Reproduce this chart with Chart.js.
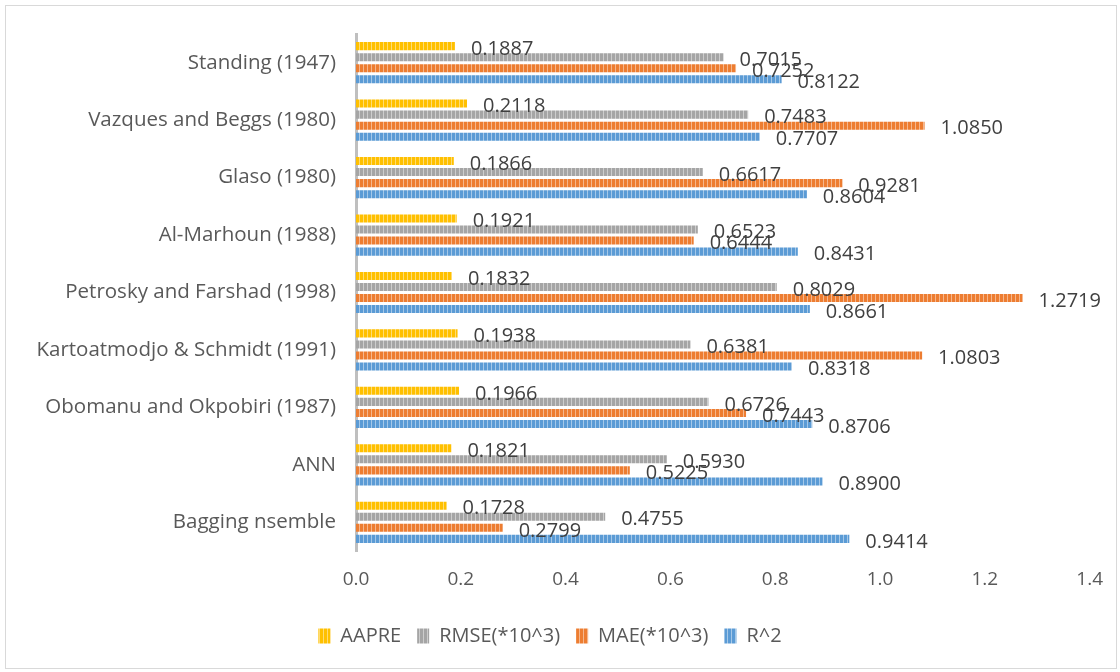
<!DOCTYPE html>
<html lang="en">
<head>
    <meta charset="UTF-8">
    <title>Model comparison bar chart</title>
    <script src="https://cdn.jsdelivr.net/npm/chart.js"></script>
    <style>
        html, body { margin: 0; padding: 0; background: #fff; }
        .chart-container { width: 1120px; height: 672px; position: relative; }
    </style>
</head>
<body>
    <div class="chart-container">
        <canvas id="myChart"></canvas>
    </div>

    <script>
        const categories = [
            'Standing (1947)',
            'Vazques and Beggs (1980)',
            'Glaso (1980)',
            'Al-Marhoun (1988)',
            'Petrosky and Farshad (1998)',
            'Kartoatmodjo & Schmidt (1991)',
            'Obomanu and Okpobiri (1987)',
            'ANN',
            'Bagging nsemble'
        ];
        const aapre = [0.1887, 0.2118, 0.1866, 0.1921, 0.1832, 0.1938, 0.1966, 0.1821, 0.1728];
        const rmse  = [0.7015, 0.7483, 0.6617, 0.6523, 0.8029, 0.6381, 0.6726, 0.5930, 0.4755];
        const mae   = [0.7252, 1.0850, 0.9281, 0.6444, 1.2719, 1.0803, 0.7443, 0.5225, 0.2799];
        const r2    = [0.8122, 0.7707, 0.8604, 0.8431, 0.8661, 0.8318, 0.8706, 0.8900, 0.9414];

        const FONT = '"Open Sans", "Noto Sans", sans-serif';

        // vertical stripe fill like the office "narrow vertical" pattern
        function stripes(color) {
            const c = document.createElement('canvas');
            c.width = 4; c.height = 4;
            const g = c.getContext('2d');
            g.fillStyle = color;
            g.fillRect(0, 0, 4, 4);
            g.fillStyle = 'rgba(255,255,255,0.45)';
            g.fillRect(3, 0, 1, 4);
            return g.createPattern(c, 'repeat');
        }

        const frame = {
            id: 'frame',
            beforeDraw(chart) {
                const ctx = chart.ctx;
                ctx.save();
                ctx.fillStyle = '#fff';
                ctx.fillRect(0, 0, chart.width, chart.height);
                ctx.strokeStyle = '#d9d9d9';
                ctx.lineWidth = 1;
                ctx.strokeRect(5.5, 5.5, chart.width - 9, chart.height - 9);
                ctx.restore();
            }
        };

        const valueLabels = {
            id: 'valueLabels',
            afterDatasetsDraw(chart) {
                const ctx = chart.ctx;
                ctx.save();
                ctx.font = '20px ' + FONT;
                ctx.fillStyle = '#404040';
                ctx.textBaseline = 'middle';
                ctx.textAlign = 'left';
                chart.data.datasets.forEach((ds, i) => {
                    chart.getDatasetMeta(i).data.forEach((bar, j) => {
                        ctx.fillText(ds.data[j].toFixed(4), bar.x + 16, bar.y + 3);
                    });
                });
                ctx.restore();
            }
        };

        const ctx = document.getElementById('myChart').getContext('2d');
        const mk = (label, data, color) => ({
            label: label,
            data: data,
            backgroundColor: stripes(color),
            borderWidth: 0,
            categoryPercentage: 0.77,
            barPercentage: 0.73
        });

        window.myBarChart = new Chart(ctx, {
            type: 'bar',
            data: {
                labels: categories,
                datasets: [
                    mk('AAPRE', aapre, '#FFC000'),
                    mk('RMSE(*10^3)', rmse, '#A5A5A5'),
                    mk('MAE(*10^3)', mae, '#ED7D31'),
                    mk('R^2', r2, '#5B9BD5')
                ]
            },
            options: {
                indexAxis: 'y',
                responsive: true,
                maintainAspectRatio: false,
                animation: false,
                layout: { padding: { top: 34, right: 20, bottom: 16, left: 0 } },
                scales: {
                    x: {
                        min: 0,
                        max: 1.4,
                        ticks: {
                            stepSize: 0.2,
                            padding: 17,
                            color: '#595959',
                            font: { family: FONT, size: 19 },
                            callback: v => v.toFixed(1)
                        },
                        grid: { display: false, drawTicks: false },
                        border: { display: false },
                        afterFit: s => { s.height = 59; }
                    },
                    y: {
                        ticks: {
                            padding: 20,
                            color: '#595959',
                            font: { family: FONT, size: 20.5 }
                        },
                        grid: { display: false, drawTicks: false },
                        border: { display: true, color: '#bfbfbf', width: 3 },
                        afterFit: s => { s.width = 356; }
                    }
                },
                plugins: {
                    legend: {
                        position: 'bottom',
                        labels: {
                            boxWidth: 12,
                            boxHeight: 15,
                            padding: 16,
                            color: '#595959',
                            font: { family: FONT, size: 20 }
                        }
                    },
                    tooltip: { enabled: false }
                }
            },
            plugins: [frame, valueLabels]
        });
    </script>
</body>
</html>
